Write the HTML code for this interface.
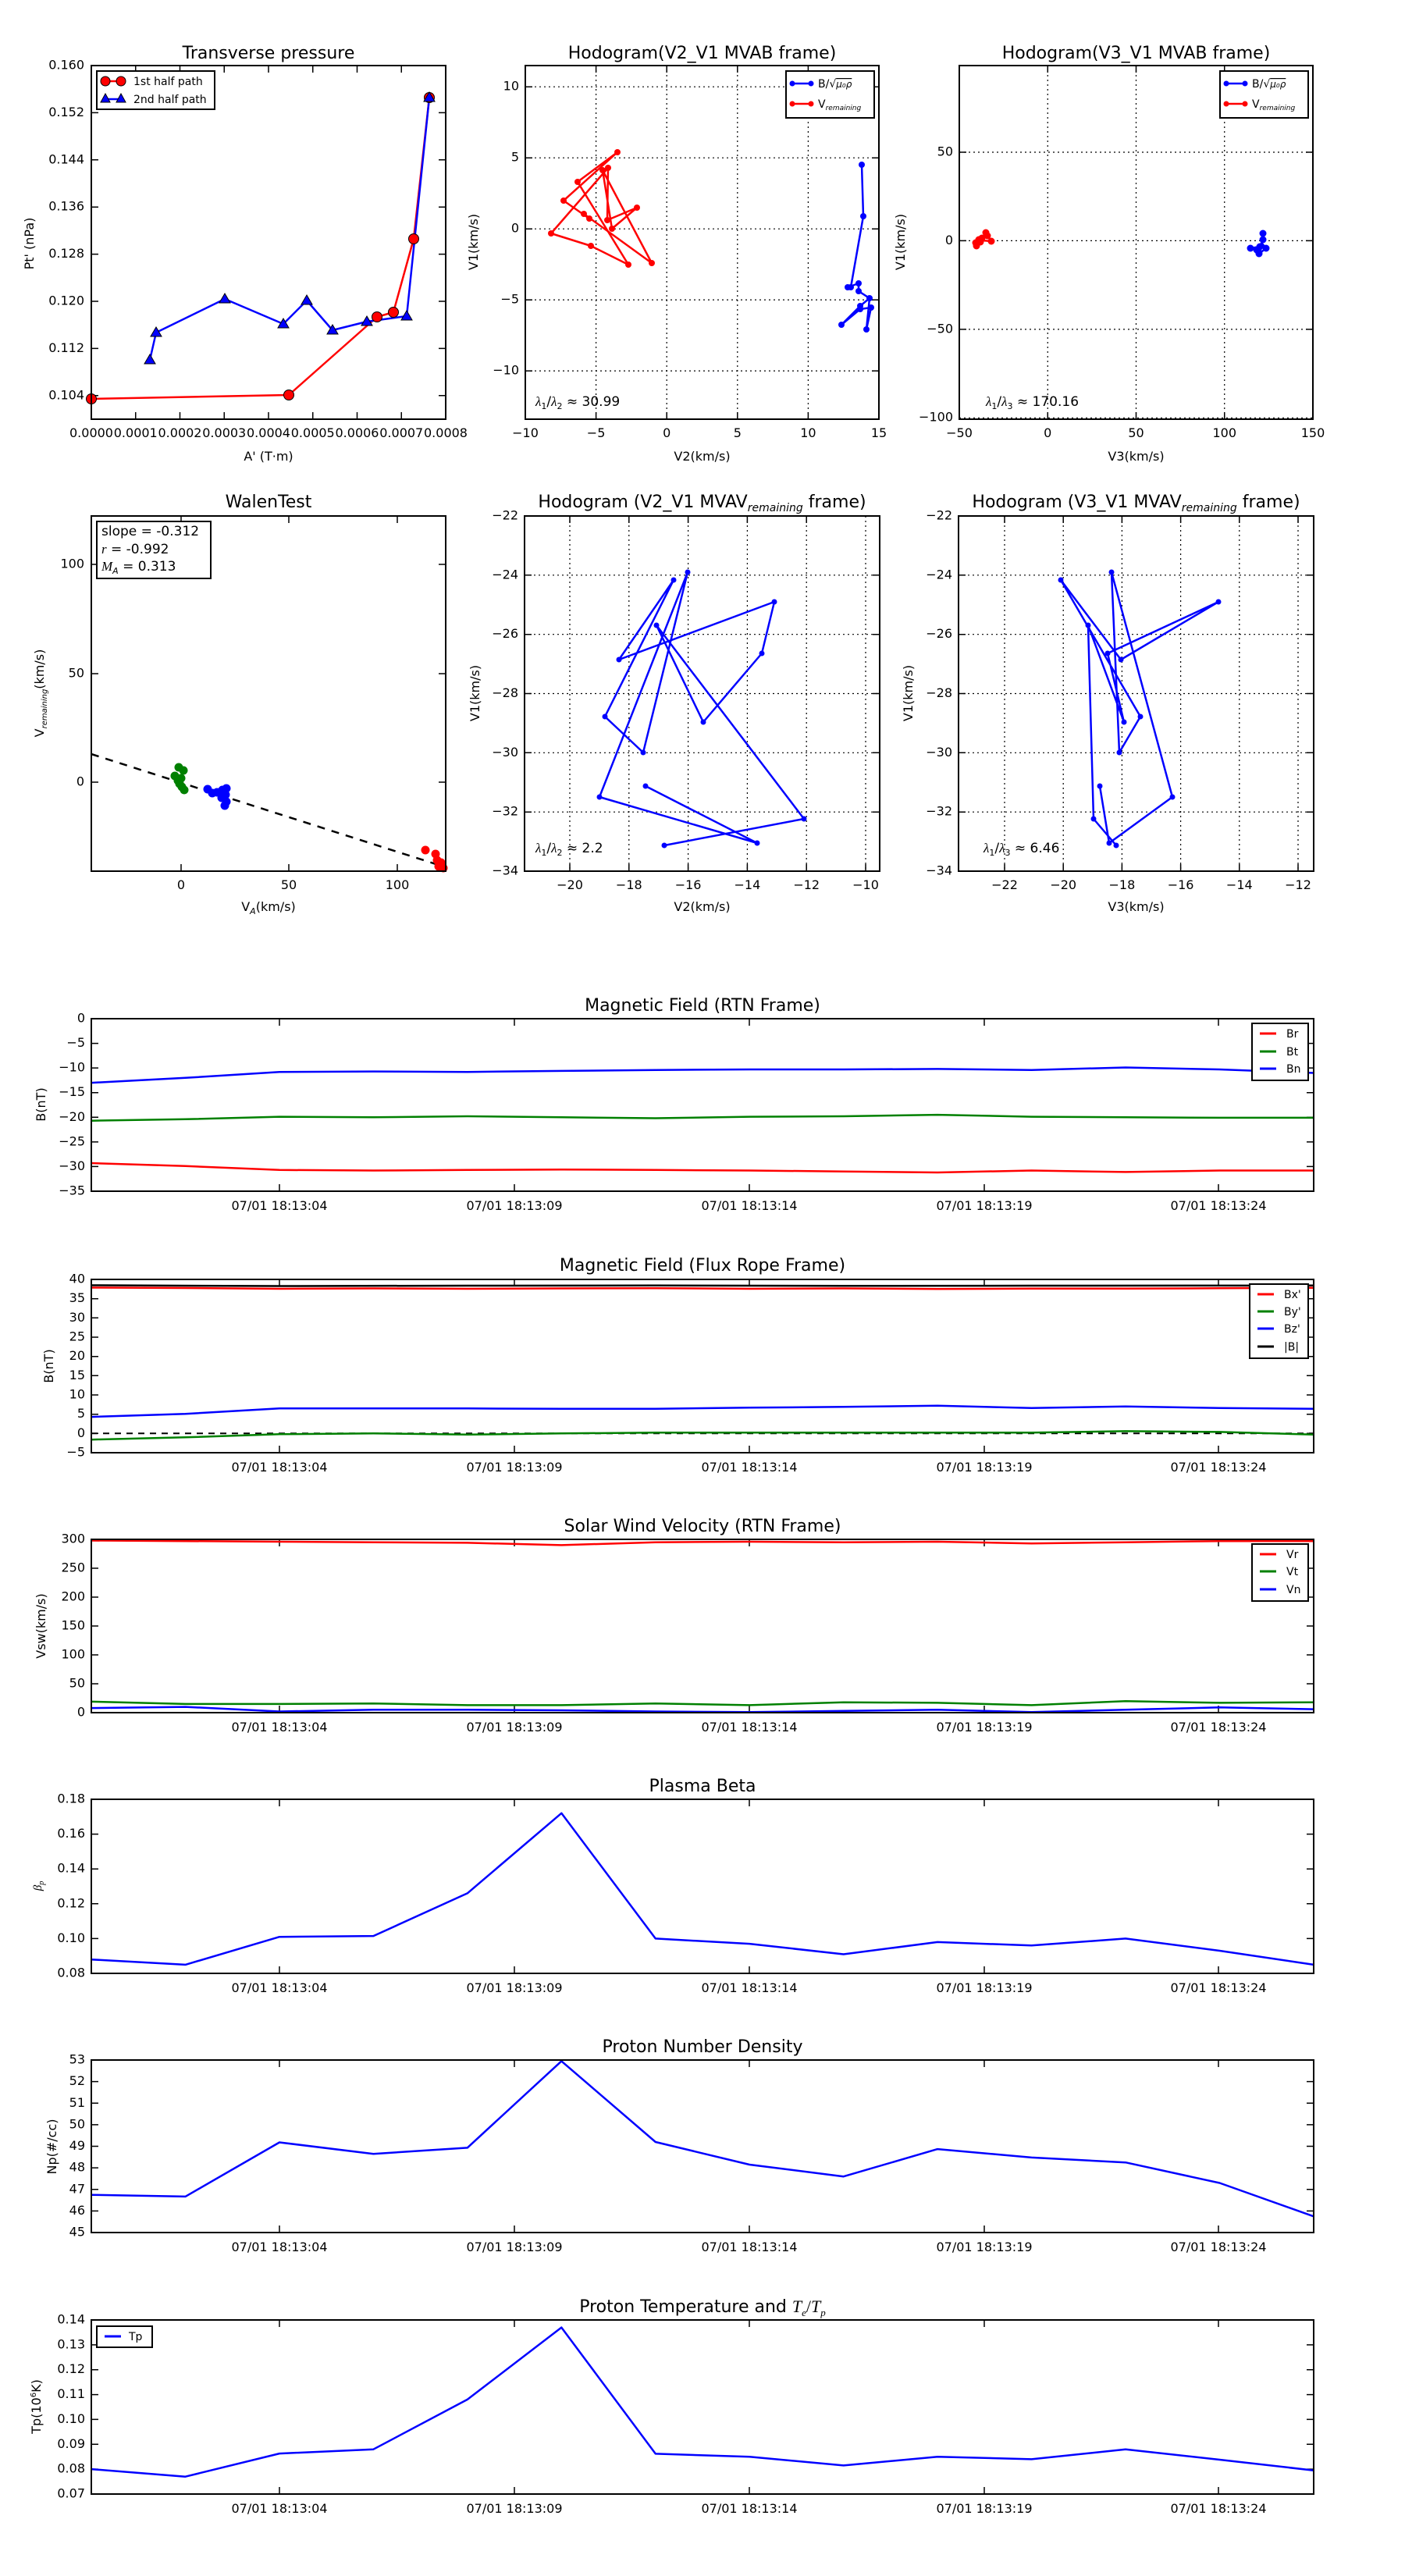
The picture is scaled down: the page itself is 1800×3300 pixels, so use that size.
<!DOCTYPE html>
<html><head><meta charset="utf-8"><style>
html,body{margin:0;padding:0;background:#fff;}
svg{display:block;font-family:"DejaVu Sans","Liberation Sans",sans-serif;}
.t{font-size:22px;text-anchor:middle;}
.tk{font-size:16px;}
.yl{text-anchor:end;dominant-baseline:middle;}
.xl{text-anchor:middle;}
.lab{font-size:16px;text-anchor:middle;}
.leg{font-size:14px;}
.sp{fill:none;stroke:#000;stroke-width:2;}
.tick{stroke:#000;stroke-width:1.5;}
.grid{stroke:#000;stroke-width:1.2;stroke-dasharray:2,4;}
.ln{fill:none;stroke-width:2.5;stroke-linejoin:round;}
</style></head><body>
<svg width="1800" height="3300" viewBox="0 0 1800 3300" xmlns="http://www.w3.org/2000/svg">
<rect width="1800" height="3300" fill="#fff"/>

<!-- ============ AX1 Transverse pressure ============ -->
<text class="t" x="344" y="75">Transverse pressure</text>
<g class="tick">
<path d="M173.75,537v-9M230.5,537v-9M287.25,537v-9M344,537v-9M400.75,537v-9M457.5,537v-9M514.25,537v-9M173.75,84v9M230.5,84v9M287.25,84v9M344,84v9M400.75,84v9M457.5,84v9M514.25,84v9"/>
<path d="M117,506.8h9M117,446.4h9M117,386h9M117,325.6h9M117,265.2h9M117,204.8h9M117,144.4h9M571,506.8h-9M571,446.4h-9M571,386h-9M571,325.6h-9M571,265.2h-9M571,204.8h-9M571,144.4h-9"/>
</g>
<g class="tk yl">
<text x="108" y="506.8">0.104</text><text x="108" y="446.4">0.112</text><text x="108" y="386">0.120</text><text x="108" y="325.6">0.128</text><text x="108" y="265.2">0.136</text><text x="108" y="204.8">0.144</text><text x="108" y="144.4">0.152</text><text x="108" y="84">0.160</text>
</g>
<g class="tk xl">
<text x="117" y="560">0.0000</text><text x="173.75" y="560">0.0001</text><text x="230.5" y="560">0.0002</text><text x="287.25" y="560">0.0003</text><text x="344" y="560">0.0004</text><text x="400.75" y="560">0.0005</text><text x="457.5" y="560">0.0006</text><text x="514.25" y="560">0.0007</text><text x="571" y="560">0.0008</text>
</g>
<text class="lab" x="344" y="590">A' (T·m)</text>
<text class="lab" transform="translate(43,312) rotate(-90)">Pt' (nPa)</text>
<polyline class="ln" stroke="#f00" points="117,511 370,506 483,406 504,400 530,306 550,125"/>
<polyline class="ln" stroke="#00f" points="192,461 200,426 288,383 363,415 393,385 426,423 470,412 521,405 550,125"/>
<g fill="#f00" stroke="#000" stroke-width="1">
<circle cx="117" cy="511" r="6.5"/><circle cx="370" cy="506" r="6.5"/><circle cx="483" cy="406" r="6.5"/><circle cx="504" cy="400" r="6.5"/><circle cx="530" cy="306" r="6.5"/><circle cx="550" cy="125" r="6.5"/>
</g>
<g fill="#00f" stroke="#000" stroke-width="1">
<polygon points="192,454 185,466 199,466"/><polygon points="200,419 193,431 207,431"/><polygon points="288,376 281,388 295,388"/><polygon points="363,408 356,420 370,420"/><polygon points="393,378 386,390 400,390"/><polygon points="426,416 419,428 433,428"/><polygon points="470,405 463,417 477,417"/><polygon points="521,398 514,410 528,410"/><polygon points="550,118 543,130 557,130"/>
</g>
<rect class="sp" x="117" y="84" width="454" height="453"/>
<rect x="124" y="91" width="151" height="49" fill="#fff" stroke="#000" stroke-width="2"/>
<line x1="135" y1="104" x2="155" y2="104" stroke="#f00" stroke-width="2.5"/>
<circle cx="135" cy="104" r="6" fill="#f00" stroke="#000"/><circle cx="155" cy="104" r="6" fill="#f00" stroke="#000"/>
<line x1="135" y1="127" x2="155" y2="127" stroke="#00f" stroke-width="2.5"/>
<polygon points="135,120 129,131 141,131" fill="#00f" stroke="#000"/><polygon points="155,120 149,131 161,131" fill="#00f" stroke="#000"/>
<text class="leg" x="171" y="109">1st half path</text>
<text class="leg" x="171" y="132">2nd half path</text>

<!-- ============ AX2 Hodogram V2_V1 MVAB ============ -->
<text class="t" x="899.5" y="75">Hodogram(V2_V1 MVAB frame)</text>
<g class="grid">
<path d="M763.6,84V537M854.2,84V537M944.8,84V537M1035.4,84V537M673,111.2H1126M673,202.2H1126M673,293.2H1126M673,384.1H1126M673,475.1H1126"/>
</g>
<g class="tick">
<path d="M763.6,537v-9M854.2,537v-9M944.8,537v-9M1035.4,537v-9M763.6,84v9M854.2,84v9M944.8,84v9M1035.4,84v9M673,111.2h9M673,202.2h9M673,293.2h9M673,384.1h9M673,475.1h9M1126,111.2h-9M1126,202.2h-9M1126,293.2h-9M1126,384.1h-9M1126,475.1h-9"/>
</g>
<g class="tk yl">
<text x="665" y="111.2">10</text><text x="665" y="202.2">5</text><text x="665" y="293.2">0</text><text x="665" y="384.1">−5</text><text x="665" y="475.1">−10</text>
</g>
<g class="tk xl">
<text x="673" y="560">−10</text><text x="763.6" y="560">−5</text><text x="854.2" y="560">0</text><text x="944.8" y="560">5</text><text x="1035.4" y="560">10</text><text x="1126" y="560">15</text>
</g>
<text class="lab" x="899.5" y="590">V2(km/s)</text>
<text class="lab" transform="translate(612,310) rotate(-90)">V1(km/s)</text>
<polyline class="ln" stroke="#f00" stroke-width="2" points="722,257 791,195 740,233 805,339 757,315 706,299 779,215 778,282 816,266 784,293 772,218 835,337 748,274 755,280 722,257"/>
<g fill="#f00"><circle cx="791" cy="195" r="4"/><circle cx="779" cy="215" r="4"/><circle cx="772" cy="218" r="4"/><circle cx="740" cy="233" r="4"/><circle cx="722" cy="257" r="4"/><circle cx="748" cy="274" r="4"/><circle cx="755" cy="280" r="4"/><circle cx="778" cy="282" r="4"/><circle cx="784" cy="293" r="4"/><circle cx="816" cy="266" r="4"/><circle cx="706" cy="299" r="4"/><circle cx="757" cy="315" r="4"/><circle cx="805" cy="339" r="4"/><circle cx="835" cy="337" r="4"/></g>
<polyline class="ln" stroke="#00f" stroke-width="2" points="1104,211 1106,277 1090,368 1086,368 1100,363 1100,373 1114,382 1102,392 1078,416 1102,396 1116,394 1110,422 1114,382"/>
<g fill="#00f"><circle cx="1104" cy="211" r="4"/><circle cx="1106" cy="277" r="4"/><circle cx="1090" cy="368" r="4"/><circle cx="1086" cy="368" r="4"/><circle cx="1100" cy="363" r="4"/><circle cx="1100" cy="373" r="4"/><circle cx="1114" cy="382" r="4"/><circle cx="1102" cy="392" r="4"/><circle cx="1078" cy="416" r="4"/><circle cx="1102" cy="396" r="4"/><circle cx="1116" cy="394" r="4"/><circle cx="1110" cy="422" r="4"/></g>
<text x="686" y="520" font-size="17"><tspan font-style="italic" font-family="Liberation Serif,serif">λ</tspan><tspan font-size="11" dy="4">1</tspan><tspan dy="-4">/</tspan><tspan font-style="italic" font-family="Liberation Serif,serif">λ</tspan><tspan font-size="11" dy="4">2</tspan><tspan dy="-4"> ≈ 30.99</tspan></text>
<rect class="sp" x="673" y="84" width="453" height="453"/>
<rect x="1007" y="91" width="113" height="60" fill="#fff" stroke="#000" stroke-width="2"/>
<line x1="1014" y1="107" x2="1040" y2="107" stroke="#00f" stroke-width="2.5"/><circle cx="1015" cy="107" r="3.5" fill="#00f"/><circle cx="1039" cy="107" r="3.5" fill="#00f"/>
<line x1="1014" y1="133" x2="1040" y2="133" stroke="#f00" stroke-width="2.5"/><circle cx="1015" cy="133" r="3.5" fill="#f00"/><circle cx="1039" cy="133" r="3.5" fill="#f00"/>
<text class="leg" x="1048" y="112">B/√<tspan text-decoration="overline" font-style="italic" font-size="12">μ₀ρ</tspan></text>
<text class="leg" x="1048" y="138">V<tspan font-size="9" font-style="italic" dy="3">remaining</tspan></text>

<!-- ============ AX3 Hodogram V3_V1 MVAB ============ -->
<text class="t" x="1455.5" y="75">Hodogram(V3_V1 MVAB frame)</text>
<g class="grid">
<path d="M1342.25,84V537M1455.5,84V537M1568.75,84V537M1229,195H1682M1229,308.4H1682M1229,421.9H1682M1229,535.3H1682"/>
</g>
<g class="tick">
<path d="M1342.25,537v-9M1455.5,537v-9M1568.75,537v-9M1342.25,84v9M1455.5,84v9M1568.75,84v9M1229,195h9M1229,308.4h9M1229,421.9h9M1682,195h-9M1682,308.4h-9M1682,421.9h-9"/>
</g>
<g class="tk yl">
<text x="1221" y="195">50</text><text x="1221" y="308.4">0</text><text x="1221" y="421.9">−50</text><text x="1221" y="535">−100</text>
</g>
<g class="tk xl">
<text x="1229" y="560">−50</text><text x="1342.25" y="560">0</text><text x="1455.5" y="560">50</text><text x="1568.75" y="560">100</text><text x="1682" y="560">150</text>
</g>
<text class="lab" x="1455.5" y="590">V3(km/s)</text>
<text class="lab" transform="translate(1159,310) rotate(-90)">V1(km/s)</text>
<polyline class="ln" stroke="#f00" stroke-width="2" points="1251,315 1254,307 1258,305 1263,298 1265,301 1270,309 1258,308 1251,312"/>
<g fill="#f00"><circle cx="1251" cy="315" r="4.5"/><circle cx="1254" cy="307" r="4.5"/><circle cx="1258" cy="305" r="4.5"/><circle cx="1263" cy="298" r="4.5"/><circle cx="1265" cy="302" r="4.5"/><circle cx="1270" cy="309" r="4.5"/><circle cx="1256" cy="310" r="4.5"/><circle cx="1250" cy="311" r="4.5"/></g>
<polyline class="ln" stroke="#00f" stroke-width="2" points="1618,299 1618,307 1614,316 1602,318 1610,320 1613,325 1622,318 1617,312 1612,322"/>
<g fill="#00f"><circle cx="1618" cy="299" r="4.5"/><circle cx="1618" cy="307" r="4.5"/><circle cx="1614" cy="316" r="4.5"/><circle cx="1602" cy="318" r="4.5"/><circle cx="1610" cy="320" r="4.5"/><circle cx="1613" cy="325" r="4.5"/><circle cx="1622" cy="318" r="4.5"/><circle cx="1612" cy="322" r="4.5"/></g>
<text x="1263" y="520" font-size="17"><tspan font-style="italic" font-family="Liberation Serif,serif">λ</tspan><tspan font-size="11" dy="4">1</tspan><tspan dy="-4">/</tspan><tspan font-style="italic" font-family="Liberation Serif,serif">λ</tspan><tspan font-size="11" dy="4">3</tspan><tspan dy="-4"> ≈ 170.16</tspan></text>
<rect class="sp" x="1229" y="84" width="453" height="453"/>
<rect x="1563" y="91" width="113" height="60" fill="#fff" stroke="#000" stroke-width="2"/>
<line x1="1570" y1="107" x2="1596" y2="107" stroke="#00f" stroke-width="2.5"/><circle cx="1571" cy="107" r="3.5" fill="#00f"/><circle cx="1595" cy="107" r="3.5" fill="#00f"/>
<line x1="1570" y1="133" x2="1596" y2="133" stroke="#f00" stroke-width="2.5"/><circle cx="1571" cy="133" r="3.5" fill="#f00"/><circle cx="1595" cy="133" r="3.5" fill="#f00"/>
<text class="leg" x="1604" y="112">B/√<tspan text-decoration="overline" font-style="italic" font-size="12">μ₀ρ</tspan></text>
<text class="leg" x="1604" y="138">V<tspan font-size="9" font-style="italic" dy="3">remaining</tspan></text>

<!-- ============ AX4 WalenTest ============ -->
<text class="t" x="344" y="650">WalenTest</text>
<g class="tick">
<path d="M232,1116v-9M370,1116v-9M509,1116v-9M232,661v9M370,661v9M509,661v9M117,723h9M117,863h9M117,1002h9M571,723h-9M571,863h-9M571,1002h-9"/>
</g>
<g class="tk yl"><text x="108" y="723">100</text><text x="108" y="863">50</text><text x="108" y="1002">0</text></g>
<g class="tk xl"><text x="232" y="1139">0</text><text x="370" y="1139">50</text><text x="509" y="1139">100</text></g>
<text class="lab" x="344" y="1167">V<tspan font-size="11" font-style="italic" dy="4">A</tspan><tspan dy="-4">(km/s)</tspan></text>
<text class="lab" transform="translate(56,888) rotate(-90)">V<tspan font-size="10" font-style="italic" dy="4">remaining</tspan><tspan dy="-4">(km/s)</tspan></text>
<line x1="117" y1="966" x2="571" y2="1111" stroke="#000" stroke-width="2.5" stroke-dasharray="10,9"/>
<g fill="#008000"><circle cx="224" cy="994" r="5.5"/><circle cx="229" cy="983" r="5.5"/><circle cx="235" cy="987" r="5.5"/><circle cx="232" cy="997" r="5.5"/><circle cx="230" cy="1004" r="5.5"/><circle cx="233" cy="1008" r="5.5"/><circle cx="236" cy="1012" r="5.5"/><circle cx="228" cy="1000" r="5.5"/></g>
<g fill="#00f"><circle cx="266" cy="1011" r="5.5"/><circle cx="272" cy="1016" r="5.5"/><circle cx="278" cy="1015" r="5.5"/><circle cx="285" cy="1012" r="5.5"/><circle cx="290" cy="1010" r="5.5"/><circle cx="289" cy="1018" r="5.5"/><circle cx="284" cy="1022" r="5.5"/><circle cx="290" cy="1027" r="5.5"/><circle cx="288" cy="1032" r="5.5"/></g>
<g fill="#f00"><circle cx="545" cy="1089" r="5.5"/><circle cx="558" cy="1094" r="5.5"/><circle cx="560" cy="1102" r="5.5"/><circle cx="562" cy="1110" r="5.5"/><circle cx="568" cy="1112" r="5.5"/><circle cx="565" cy="1105" r="5.5"/></g>
<rect class="sp" x="117" y="661" width="454" height="455"/>
<rect x="124" y="668" width="146" height="73" fill="#fff" stroke="#000" stroke-width="2"/>
<text x="130" y="686" font-size="17">slope = -0.312</text>
<text x="130" y="709" font-size="17"><tspan font-style="italic" font-family="Liberation Serif,serif">r</tspan> = -0.992</text>
<text x="130" y="731" font-size="17"><tspan font-style="italic" font-family="Liberation Serif,serif">M</tspan><tspan font-size="11" font-style="italic" dy="4">A</tspan><tspan dy="-4"> = 0.313</tspan></text>

<!-- ============ AX5 Hodogram V2_V1 MVAV ============ -->
<text class="t" x="899.5" y="650">Hodogram (V2_V1 MVAV<tspan font-size="14" font-style="italic" dy="5">remaining</tspan><tspan dy="-5"> frame)</tspan></text>
<g class="grid">
<path d="M730,661V1116M805.8,661V1116M881.6,661V1116M957.4,661V1116M1033.2,661V1116M1109,661V1116M672,736.8H1127M672,812.7H1127M672,888.5H1127M672,964.3H1127M672,1040.2H1127"/>
</g>
<g class="tick">
<path d="M730,1116v-9M805.8,1116v-9M881.6,1116v-9M957.4,1116v-9M1033.2,1116v-9M1109,1116v-9M730,661v9M805.8,661v9M881.6,661v9M957.4,661v9M1033.2,661v9M672,736.8h9M672,812.7h9M672,888.5h9M672,964.3h9M672,1040.2h9M1127,736.8h-9M1127,812.7h-9M1127,888.5h-9M1127,964.3h-9M1127,1040.2h-9"/>
</g>
<g class="tk yl">
<text x="664" y="661">−22</text><text x="664" y="736.8">−24</text><text x="664" y="812.7">−26</text><text x="664" y="888.5">−28</text><text x="664" y="964.3">−30</text><text x="664" y="1040.2">−32</text><text x="664" y="1116">−34</text>
</g>
<g class="tk xl">
<text x="730" y="1139">−20</text><text x="805.8" y="1139">−18</text><text x="881.6" y="1139">−16</text><text x="957.4" y="1139">−14</text><text x="1033.2" y="1139">−12</text><text x="1109" y="1139">−10</text>
</g>
<text class="lab" x="899.5" y="1167">V2(km/s)</text>
<text class="lab" transform="translate(614,888) rotate(-90)">V1(km/s)</text>
<polyline class="ln" stroke="#00f" stroke-width="2" points="851,1083 1030,1049 841,801 901,925 976,837 992,771 793,845 863,743 775,918 824,964 881,733 768,1021 970,1080 827,1007"/>
<g fill="#00f"><circle cx="851" cy="1083" r="3.5"/><circle cx="1030" cy="1049" r="3.5"/><circle cx="841" cy="801" r="3.5"/><circle cx="901" cy="925" r="3.5"/><circle cx="976" cy="837" r="3.5"/><circle cx="992" cy="771" r="3.5"/><circle cx="793" cy="845" r="3.5"/><circle cx="863" cy="743" r="3.5"/><circle cx="775" cy="918" r="3.5"/><circle cx="824" cy="964" r="3.5"/><circle cx="881" cy="733" r="3.5"/><circle cx="768" cy="1021" r="3.5"/><circle cx="970" cy="1080" r="3.5"/><circle cx="827" cy="1007" r="3.5"/></g>
<text x="686" y="1092" font-size="17"><tspan font-style="italic" font-family="Liberation Serif,serif">λ</tspan><tspan font-size="11" dy="4">1</tspan><tspan dy="-4">/</tspan><tspan font-style="italic" font-family="Liberation Serif,serif">λ</tspan><tspan font-size="11" dy="4">2</tspan><tspan dy="-4"> ≈ 2.2</tspan></text>
<rect class="sp" x="672" y="661" width="455" height="455"/>

<!-- ============ AX6 Hodogram V3_V1 MVAV ============ -->
<text class="t" x="1455.5" y="650">Hodogram (V3_V1 MVAV<tspan font-size="14" font-style="italic" dy="5">remaining</tspan><tspan dy="-5"> frame)</tspan></text>
<g class="grid">
<path d="M1287,661V1116M1362.2,661V1116M1437.4,661V1116M1512.6,661V1116M1587.8,661V1116M1663,661V1116M1228,736.8H1683M1228,812.7H1683M1228,888.5H1683M1228,964.3H1683M1228,1040.2H1683"/>
</g>
<g class="tick">
<path d="M1287,1116v-9M1362.2,1116v-9M1437.4,1116v-9M1512.6,1116v-9M1587.8,1116v-9M1663,1116v-9M1287,661v9M1362.2,661v9M1437.4,661v9M1512.6,661v9M1587.8,661v9M1663,661v9M1228,736.8h9M1228,812.7h9M1228,888.5h9M1228,964.3h9M1228,1040.2h9M1683,736.8h-9M1683,812.7h-9M1683,888.5h-9M1683,964.3h-9M1683,1040.2h-9"/>
</g>
<g class="tk yl">
<text x="1220" y="661">−22</text><text x="1220" y="736.8">−24</text><text x="1220" y="812.7">−26</text><text x="1220" y="888.5">−28</text><text x="1220" y="964.3">−30</text><text x="1220" y="1040.2">−32</text><text x="1220" y="1116">−34</text>
</g>
<g class="tk xl">
<text x="1287" y="1139">−22</text><text x="1362.2" y="1139">−20</text><text x="1437.4" y="1139">−18</text><text x="1512.6" y="1139">−16</text><text x="1587.8" y="1139">−14</text><text x="1663" y="1139">−12</text>
</g>
<text class="lab" x="1455.5" y="1167">V3(km/s)</text>
<text class="lab" transform="translate(1169,888) rotate(-90)">V1(km/s)</text>
<polyline class="ln" stroke="#00f" stroke-width="2" points="1430,1083 1401,1049 1394,801 1440,925 1419,837 1561,771 1436,845 1359,743 1461,918 1434,964 1424,733 1502,1021 1421,1080 1409,1007"/>
<g fill="#00f"><circle cx="1430" cy="1083" r="3.5"/><circle cx="1401" cy="1049" r="3.5"/><circle cx="1394" cy="801" r="3.5"/><circle cx="1440" cy="925" r="3.5"/><circle cx="1419" cy="837" r="3.5"/><circle cx="1561" cy="771" r="3.5"/><circle cx="1436" cy="845" r="3.5"/><circle cx="1359" cy="743" r="3.5"/><circle cx="1461" cy="918" r="3.5"/><circle cx="1434" cy="964" r="3.5"/><circle cx="1424" cy="733" r="3.5"/><circle cx="1502" cy="1021" r="3.5"/><circle cx="1421" cy="1080" r="3.5"/><circle cx="1409" cy="1007" r="3.5"/></g>
<text x="1260" y="1092" font-size="17"><tspan font-style="italic" font-family="Liberation Serif,serif">λ</tspan><tspan font-size="11" dy="4">1</tspan><tspan dy="-4">/</tspan><tspan font-style="italic" font-family="Liberation Serif,serif">λ</tspan><tspan font-size="11" dy="4">3</tspan><tspan dy="-4"> ≈ 6.46</tspan></text>
<rect class="sp" x="1228" y="661" width="455" height="455"/>

<!-- ============ TIME SERIES common ticks ============ -->
<!-- Panel 1: Magnetic Field RTN -->
<text class="t" x="900" y="1295">Magnetic Field (RTN Frame)</text>
<g class="tick"><path d="M358,1526v-9M659,1526v-9M960,1526v-9M1261,1526v-9M1561,1526v-9M358,1305v9M659,1305v9M960,1305v9M1261,1305v9M1561,1305v9M117,1336.6h9M117,1368.1h9M117,1399.7h9M117,1431.3h9M117,1462.9h9M117,1494.4h9M1683,1336.6h-9M1683,1368.1h-9M1683,1399.7h-9M1683,1431.3h-9M1683,1462.9h-9M1683,1494.4h-9"/></g>
<g class="tk yl"><text x="109" y="1305">0</text><text x="109" y="1336.6">−5</text><text x="109" y="1368.1">−10</text><text x="109" y="1399.7">−15</text><text x="109" y="1431.3">−20</text><text x="109" y="1462.9">−25</text><text x="109" y="1494.4">−30</text><text x="109" y="1526">−35</text></g>
<g class="tk xl"><text x="358" y="1550">07/01 18:13:04</text><text x="659" y="1550">07/01 18:13:09</text><text x="960" y="1550">07/01 18:13:14</text><text x="1261" y="1550">07/01 18:13:19</text><text x="1561" y="1550">07/01 18:13:24</text></g>
<text class="lab" transform="translate(58,1415) rotate(-90)">B(nT)</text>
<polyline class="ln" stroke="#f00" points="117,1490 237.5,1493.8 358,1498.8 478.4,1499.5 598.8,1498.8 719.3,1498.2 839.8,1498.8 960.2,1499.5 1080.7,1500.7 1201.1,1502 1321.6,1499.5 1442,1501.4 1562.5,1499.5 1683,1499.5"/>
<polyline class="ln" stroke="#008000" points="117,1435.7 237.5,1433.8 358,1430.6 478.4,1431.3 598.8,1430 719.3,1431.3 839.8,1432.5 960.2,1430.6 1080.7,1430 1201.1,1428.1 1321.6,1430.6 1442,1431.3 1562.5,1431.9 1683,1431.9"/>
<polyline class="ln" stroke="#00f" points="117,1387.1 237.5,1380.8 358,1373.2 478.4,1372.6 598.8,1373.2 719.3,1371.9 839.8,1370.7 960.2,1370 1080.7,1370 1201.1,1369.4 1321.6,1370.7 1442,1367.5 1562.5,1370 1683,1374.5"/>
<rect class="sp" x="117" y="1305" width="1566" height="221"/>
<rect x="1604" y="1311" width="72" height="73" fill="#fff" stroke="#000" stroke-width="2"/>
<line x1="1614" y1="1324" x2="1635" y2="1324" stroke="#f00" stroke-width="3"/><line x1="1614" y1="1347" x2="1635" y2="1347" stroke="#008000" stroke-width="3"/><line x1="1614" y1="1369" x2="1635" y2="1369" stroke="#00f" stroke-width="3"/>
<text class="leg" x="1648" y="1329">Br</text><text class="leg" x="1648" y="1352">Bt</text><text class="leg" x="1648" y="1374">Bn</text>

<!-- Panel 2: Flux rope frame -->
<text class="t" x="900" y="1628">Magnetic Field (Flux Rope Frame)</text>
<g class="tick"><path d="M358,1861v-9M659,1861v-9M960,1861v-9M1261,1861v-9M1561,1861v-9M358,1639v9M659,1639v9M960,1639v9M1261,1639v9M1561,1639v9M117,1836.3h9M117,1811.7h9M117,1787h9M117,1762.3h9M117,1737.7h9M117,1713h9M117,1688.3h9M117,1663.7h9M1683,1836.3h-9M1683,1811.7h-9M1683,1787h-9M1683,1762.3h-9M1683,1737.7h-9M1683,1713h-9M1683,1688.3h-9M1683,1663.7h-9"/></g>
<g class="tk yl"><text x="109" y="1861">−5</text><text x="109" y="1836.3">0</text><text x="109" y="1811.7">5</text><text x="109" y="1787">10</text><text x="109" y="1762.3">15</text><text x="109" y="1737.7">20</text><text x="109" y="1713">25</text><text x="109" y="1688.3">30</text><text x="109" y="1663.7">35</text><text x="109" y="1639">40</text></g>
<g class="tk xl"><text x="358" y="1885">07/01 18:13:04</text><text x="659" y="1885">07/01 18:13:09</text><text x="960" y="1885">07/01 18:13:14</text><text x="1261" y="1885">07/01 18:13:19</text><text x="1561" y="1885">07/01 18:13:24</text></g>
<text class="lab" transform="translate(68,1750) rotate(-90)">B(nT)</text>
<line x1="117" y1="1836.3" x2="1683" y2="1836.3" stroke="#000" stroke-width="2" stroke-dasharray="8,7"/>
<polyline class="ln" stroke="#000" points="117,1646.5 358,1647.5 598.8,1647 839.8,1646.8 1080.7,1647.3 1321.6,1647 1683,1646.8"/>
<polyline class="ln" stroke="#f00" points="117,1649.5 237.5,1650 358,1651 478.4,1650.5 598.8,1651 719.3,1650.5 839.8,1650.2 960.2,1651 1080.7,1650.5 1201.1,1651.2 1321.6,1650.8 1442,1650.8 1562.5,1650.3 1683,1649.8"/>
<polyline class="ln" stroke="#00f" points="117,1815.1 237.5,1811.2 358,1804.3 478.4,1804.3 598.8,1804.3 719.3,1804.8 839.8,1804.8 960.2,1803.3 1080.7,1802.3 1201.1,1800.8 1321.6,1803.8 1442,1801.8 1562.5,1803.8 1683,1804.8"/>
<polyline class="ln" stroke="#008000" points="117,1844.2 237.5,1841.3 358,1837.3 478.4,1836.3 598.8,1837.8 719.3,1836.3 839.8,1835.3 960.2,1835.3 1080.7,1835.3 1201.1,1835.3 1321.6,1835.3 1442,1833.4 1562.5,1834.4 1683,1837.8"/>
<rect class="sp" x="117" y="1639" width="1566" height="222"/>
<rect x="1601" y="1645" width="75" height="95" fill="#fff" stroke="#000" stroke-width="2"/>
<line x1="1611" y1="1658" x2="1632" y2="1658" stroke="#f00" stroke-width="3"/><line x1="1611" y1="1680" x2="1632" y2="1680" stroke="#008000" stroke-width="3"/><line x1="1611" y1="1702" x2="1632" y2="1702" stroke="#00f" stroke-width="3"/><line x1="1611" y1="1725" x2="1632" y2="1725" stroke="#000" stroke-width="3"/>
<text class="leg" x="1645" y="1663">Bx'</text><text class="leg" x="1645" y="1685">By'</text><text class="leg" x="1645" y="1707">Bz'</text><text class="leg" x="1645" y="1730">|B|</text>

<!-- Panel 3: Solar wind velocity -->
<text class="t" x="900" y="1962">Solar Wind Velocity (RTN Frame)</text>
<g class="tick"><path d="M358,2194v-9M659,2194v-9M960,2194v-9M1261,2194v-9M1561,2194v-9M358,1972v9M659,1972v9M960,1972v9M1261,1972v9M1561,1972v9M117,2157h9M117,2120h9M117,2083h9M117,2046h9M117,2009h9M1683,2157h-9M1683,2120h-9M1683,2083h-9M1683,2046h-9M1683,2009h-9"/></g>
<g class="tk yl"><text x="109" y="2194">0</text><text x="109" y="2157">50</text><text x="109" y="2120">100</text><text x="109" y="2083">150</text><text x="109" y="2046">200</text><text x="109" y="2009">250</text><text x="109" y="1972">300</text></g>
<g class="tk xl"><text x="358" y="2218">07/01 18:13:04</text><text x="659" y="2218">07/01 18:13:09</text><text x="960" y="2218">07/01 18:13:14</text><text x="1261" y="2218">07/01 18:13:19</text><text x="1561" y="2218">07/01 18:13:24</text></g>
<text class="lab" transform="translate(58,2083) rotate(-90)">Vsw(km/s)</text>
<polyline class="ln" stroke="#f00" points="117,1973.5 237.5,1974.2 358,1975 478.4,1975.7 598.8,1976.4 719.3,1979.4 839.8,1975.7 960.2,1975 1080.7,1975.7 1201.1,1975 1321.6,1977.2 1442,1975.7 1562.5,1974.2 1683,1974.2"/>
<polyline class="ln" stroke="#008000" points="117,2179.9 237.5,2182.9 358,2182.9 478.4,2182.2 598.8,2184.4 719.3,2184.4 839.8,2182.2 960.2,2184.4 1080.7,2180.7 1201.1,2181.4 1321.6,2184.4 1442,2179.2 1562.5,2181.4 1683,2180.7"/>
<polyline class="ln" stroke="#00f" points="117,2188.1 237.5,2186.6 358,2192.5 478.4,2190.3 598.8,2190.3 719.3,2191 839.8,2192.5 960.2,2193.3 1080.7,2191.8 1201.1,2190.3 1321.6,2193.3 1442,2190.3 1562.5,2187.3 1683,2189.6"/>
<rect class="sp" x="117" y="1972" width="1566" height="222"/>
<rect x="1604" y="1978" width="72" height="73" fill="#fff" stroke="#000" stroke-width="2"/>
<line x1="1614" y1="1991" x2="1635" y2="1991" stroke="#f00" stroke-width="3"/><line x1="1614" y1="2013" x2="1635" y2="2013" stroke="#008000" stroke-width="3"/><line x1="1614" y1="2036" x2="1635" y2="2036" stroke="#00f" stroke-width="3"/>
<text class="leg" x="1648" y="1996">Vr</text><text class="leg" x="1648" y="2018">Vt</text><text class="leg" x="1648" y="2041">Vn</text>

<!-- Panel 4: Plasma Beta -->
<text class="t" x="900" y="2295">Plasma Beta</text>
<g class="tick"><path d="M358,2528v-9M659,2528v-9M960,2528v-9M1261,2528v-9M1561,2528v-9M358,2305v9M659,2305v9M960,2305v9M1261,2305v9M1561,2305v9M117,2483.4h9M117,2438.8h9M117,2394.2h9M117,2349.6h9M1683,2483.4h-9M1683,2438.8h-9M1683,2394.2h-9M1683,2349.6h-9"/></g>
<g class="tk yl"><text x="109" y="2528">0.08</text><text x="109" y="2483.4">0.10</text><text x="109" y="2438.8">0.12</text><text x="109" y="2394.2">0.14</text><text x="109" y="2349.6">0.16</text><text x="109" y="2305">0.18</text></g>
<g class="tk xl"><text x="358" y="2552">07/01 18:13:04</text><text x="659" y="2552">07/01 18:13:09</text><text x="960" y="2552">07/01 18:13:14</text><text x="1261" y="2552">07/01 18:13:19</text><text x="1561" y="2552">07/01 18:13:24</text></g>
<text transform="translate(53,2416) rotate(-90)" font-size="15" text-anchor="middle" font-style="italic" font-family="Liberation Serif,serif">β<tspan font-size="10" dy="3">p</tspan></text>
<polyline class="ln" stroke="#00f" points="117,2510.2 237.5,2516.9 358,2481.2 478.4,2480.1 598.8,2425.4 719.3,2322.8 839.8,2483.4 960.2,2490.1 1080.7,2503.5 1201.1,2487.9 1321.6,2492.3 1442,2483.4 1562.5,2499 1683,2516.9"/>
<rect class="sp" x="117" y="2305" width="1566" height="223"/>

<!-- Panel 5: Proton Number Density -->
<text class="t" x="900" y="2629">Proton Number Density</text>
<g class="tick"><path d="M358,2860v-9M659,2860v-9M960,2860v-9M1261,2860v-9M1561,2860v-9M358,2639v9M659,2639v9M960,2639v9M1261,2639v9M1561,2639v9M117,2832.4h9M117,2804.8h9M117,2777.1h9M117,2749.5h9M117,2721.9h9M117,2694.3h9M117,2666.6h9M1683,2832.4h-9M1683,2804.8h-9M1683,2777.1h-9M1683,2749.5h-9M1683,2721.9h-9M1683,2694.3h-9M1683,2666.6h-9"/></g>
<g class="tk yl"><text x="109" y="2860">45</text><text x="109" y="2832.4">46</text><text x="109" y="2804.8">47</text><text x="109" y="2777.1">48</text><text x="109" y="2749.5">49</text><text x="109" y="2721.9">50</text><text x="109" y="2694.3">51</text><text x="109" y="2666.6">52</text><text x="109" y="2639">53</text></g>
<g class="tk xl"><text x="358" y="2884">07/01 18:13:04</text><text x="659" y="2884">07/01 18:13:09</text><text x="960" y="2884">07/01 18:13:14</text><text x="1261" y="2884">07/01 18:13:19</text><text x="1561" y="2884">07/01 18:13:24</text></g>
<text class="lab" transform="translate(72,2750) rotate(-90)">Np(#/cc)</text>
<polyline class="ln" stroke="#00f" points="117,2811.7 237.5,2813.9 358,2744.5 478.4,2759.2 598.8,2751.4 719.3,2640.4 839.8,2744 960.2,2773 1080.7,2788.2 1201.1,2753.1 1321.6,2763.9 1442,2770.2 1562.5,2796.5 1683,2839.3"/>
<rect class="sp" x="117" y="2639" width="1566" height="221"/>

<!-- Panel 6: Proton Temperature -->
<text class="t" x="900" y="2962">Proton Temperature and <tspan font-style="italic" font-family="Liberation Serif,serif">T</tspan><tspan font-size="13" font-style="italic" font-family="Liberation Serif,serif" dy="5">e</tspan><tspan dy="-5" font-family="Liberation Serif,serif">/</tspan><tspan font-style="italic" font-family="Liberation Serif,serif">T</tspan><tspan font-size="13" font-style="italic" font-family="Liberation Serif,serif" dy="5">p</tspan></text>
<g class="tick"><path d="M358,3195v-9M659,3195v-9M960,3195v-9M1261,3195v-9M1561,3195v-9M358,2972v9M659,2972v9M960,2972v9M1261,2972v9M1561,2972v9M117,3163.1h9M117,3131.3h9M117,3099.4h9M117,3067.6h9M117,3035.7h9M117,3003.9h9M1683,3163.1h-9M1683,3131.3h-9M1683,3099.4h-9M1683,3067.6h-9M1683,3035.7h-9M1683,3003.9h-9"/></g>
<g class="tk yl"><text x="109" y="3195">0.07</text><text x="109" y="3163.1">0.08</text><text x="109" y="3131.3">0.09</text><text x="109" y="3099.4">0.10</text><text x="109" y="3067.6">0.11</text><text x="109" y="3035.7">0.12</text><text x="109" y="3003.9">0.13</text><text x="109" y="2972">0.14</text></g>
<g class="tk xl"><text x="358" y="3219">07/01 18:13:04</text><text x="659" y="3219">07/01 18:13:09</text><text x="960" y="3219">07/01 18:13:14</text><text x="1261" y="3219">07/01 18:13:19</text><text x="1561" y="3219">07/01 18:13:24</text></g>
<text class="lab" transform="translate(52,3083) rotate(-90)">Tp(10<tspan font-size="10" dy="-6">6</tspan><tspan dy="6">K)</tspan></text>
<polyline class="ln" stroke="#00f" points="117,3163.1 237.5,3172.7 358,3143.1 478.4,3137.7 598.8,3073.9 719.3,2981.6 839.8,3143.4 960.2,3147.2 1080.7,3158.4 1201.1,3147.2 1321.6,3150.4 1442,3137.7 1562.5,3151 1683,3164.7"/>
<rect class="sp" x="117" y="2972" width="1566" height="223"/>
<rect x="124" y="2980" width="71" height="27" fill="#fff" stroke="#000" stroke-width="2"/>
<line x1="134" y1="2993" x2="155" y2="2993" stroke="#00f" stroke-width="3"/>
<text class="leg" x="165" y="2998">Tp</text>
</svg>
</body></html>
